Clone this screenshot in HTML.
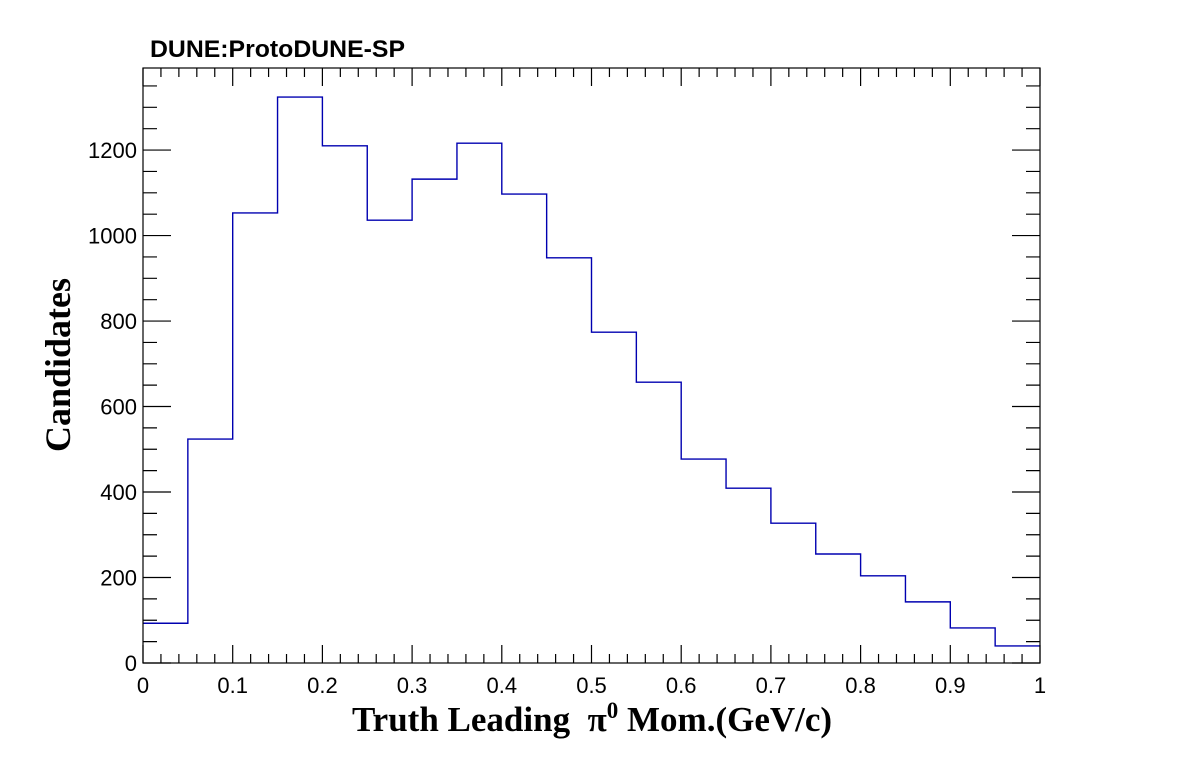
<!DOCTYPE html>
<html><head><meta charset="utf-8"><style>
html,body{margin:0;padding:0;background:#fff;width:1196px;height:772px;overflow:hidden}
svg{display:block}
</style></head><body>
<svg id="chart" width="1196" height="772" xmlns="http://www.w3.org/2000/svg">
<text x="150" y="57" font-family="Liberation Sans, sans-serif" font-weight="bold" font-size="24" textLength="255" lengthAdjust="spacingAndGlyphs">DUNE:ProtoDUNE-SP</text>
<g id="axes"></g>
<text x="592" y="731" text-anchor="middle" font-family="Liberation Serif, serif" font-weight="bold" font-size="35" xml:space="preserve">Truth Leading  π<tspan font-size="23" dy="-13">0</tspan><tspan dy="13"> Mom.(GeV/c)</tspan></text>
<text transform="translate(70,365) rotate(-90)" text-anchor="middle" font-family="Liberation Serif, serif" font-weight="bold" font-size="36">Candidates</text>
</svg>
<script>
const binEdgesStart = 0, binWidth = 0.05;
const counts = [93,524,1053,1324,1210,1036,1132,1216,1097,948,774,657,477,409,327,255,204,143,82,40];
const xTickLabels = ["0","0.1","0.2","0.3","0.4","0.5","0.6","0.7","0.8","0.9","1"];
const yTickLabels = ["0","200","400","600","800","1000","1200"];
const X0=143,X1=1040,Y0=663,Y1=68,YMAX=1392;
const xs=v=>X0+(v-0)/(1-0)*(X1-X0);
const ys=v=>Y0-v/YMAX*(Y0-Y1);
const NS="http://www.w3.org/2000/svg";
const g=document.getElementById('axes');
function mk(t,a){const e=document.createElementNS(NS,t);for(const k in a)e.setAttribute(k,a[k]);return e;}
let d=`M${xs(0)},${ys(counts[0])}`;
counts.forEach((c,i)=>{const xa=xs(binEdgesStart+i*binWidth),xb=xs(binEdgesStart+(i+1)*binWidth);
 if(i>0)d+=` L${xa},${ys(c)}`; d+=` L${xb},${ys(c)}`;});
const h=mk('path',{d:d,fill:'none',stroke:'#0000b0','stroke-width':1.4});


g.appendChild(h);
const fr=mk('rect',{x:X0,y:Y1,width:X1-X0,height:Y0-Y1,fill:'none',stroke:'#000','stroke-width':1.2});


g.appendChild(fr);
let tk='';
for(let i=0;i<=50;i++){const v=i*0.02,x=xs(v),L=(i%5===0)?18:9;
 tk+=`M${x},${Y0}v${-L}M${x},${Y1}v${L}`;}
for(let v=0;v<=YMAX;v+=50){const y=ys(v),L=(v%200===0)?28:14;
 tk+=`M${X0},${y}h${L}M${X1},${y}h${-L}`;}
const t=mk('path',{d:tk,stroke:'#000','stroke-width':1.2,fill:'none'});


g.appendChild(t);
xTickLabels.forEach((s,i)=>{const e=mk('text',{x:xs(i*0.1),y:693,'text-anchor':'middle','font-family':'Liberation Sans, sans-serif','font-size':22});
 e.textContent=s;
 
 
 g.appendChild(e);});
yTickLabels.forEach((s,i)=>{const e=mk('text',{x:137,y:ys(i*200)+8,'text-anchor':'end','font-family':'Liberation Sans, sans-serif','font-size':22});
 e.textContent=s;
 
 
 g.appendChild(e);});
</script>
</body></html>
